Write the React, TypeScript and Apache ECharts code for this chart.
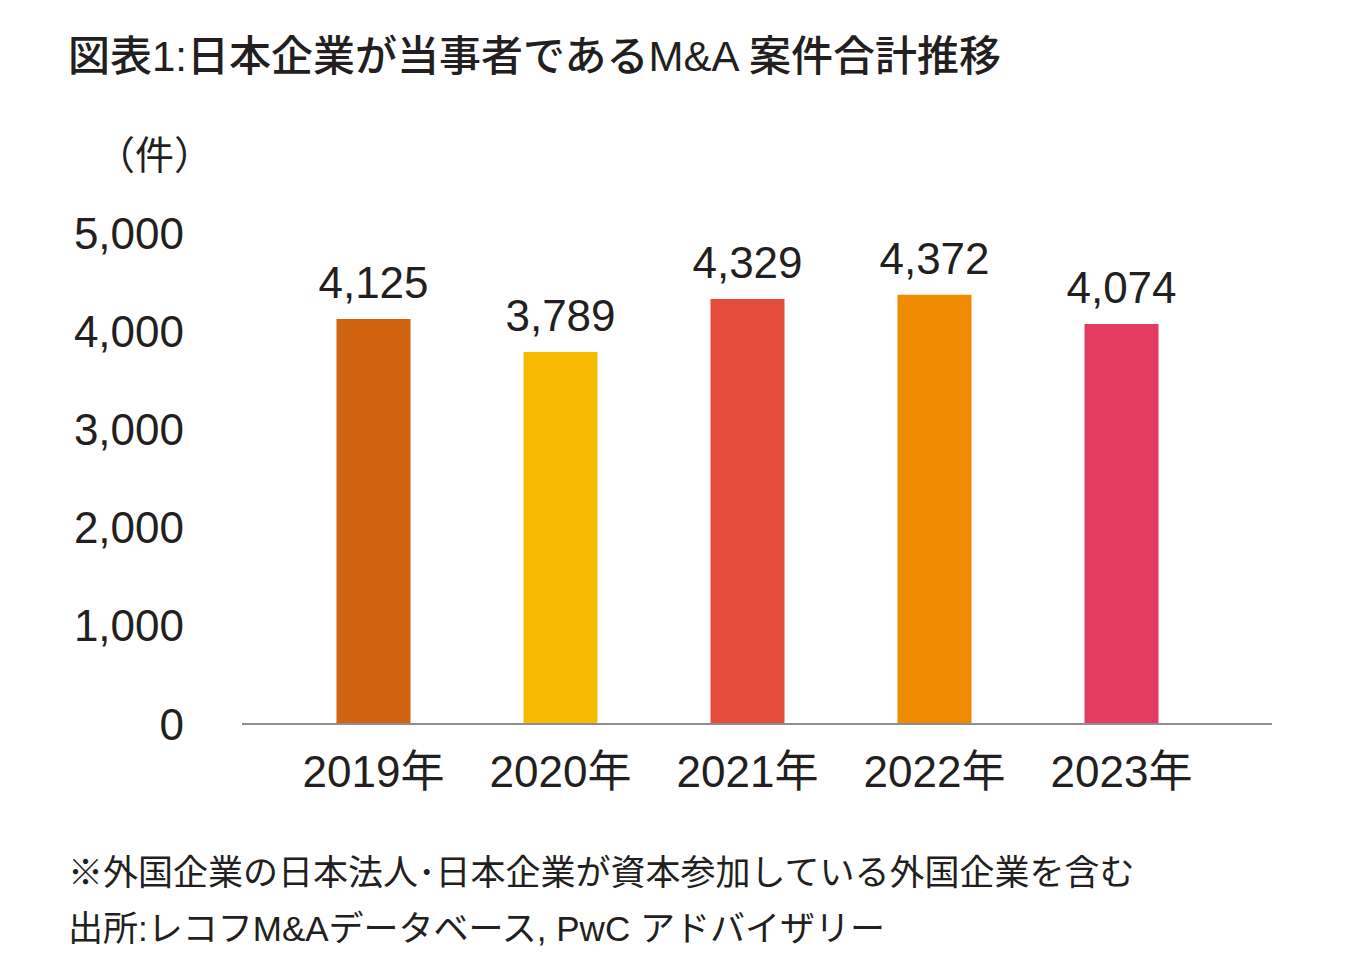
import React, { useEffect, useRef } from "react";
import * as echarts from "echarts";

const categories = ["2019年", "2020年", "2021年", "2022年", "2023年"];
const values = [4125, 3789, 4329, 4372, 4074];
const barColors = ["#D0630F", "#F6BB00", "#E64C3C", "#EE8B00", "#E43B62"];
const yTicks = { min: 0, max: 5000, interval: 1000 };

const title = "図表1:日本企業が当事者であるM&A 案件合計推移";
const unitLabel = "（件）";
const note1 = "※外国企業の日本法人･日本企業が資本参加している外国企業を含む";
const note2 = "出所:レコフM&Aデータベース, PwC アドバイザリー";

const FONT = "'Liberation Sans', 'Noto Sans CJK JP', sans-serif";
const TXT = "#231f20";

export default function App() {
  const ref = useRef<HTMLDivElement>(null);
  useEffect(() => {
    if (!ref.current) return;
    const chart = echarts.init(ref.current, undefined, { renderer: "svg" });
    chart.setOption({
      animation: false,
      backgroundColor: "#ffffff",
      textStyle: { fontFamily: FONT },
      grid: { left: 280, right: 134, top: 233, bottom: 242 },
      xAxis: {
        type: "category",
        data: categories,
        axisLine: { show: false },
        axisTick: { show: false },
        axisLabel: { color: TXT, fontSize: 44, margin: 25, fontFamily: FONT },
      },
      yAxis: {
        type: "value",
        min: yTicks.min,
        max: yTicks.max,
        interval: yTicks.interval,
        splitLine: { show: false },
        axisLine: { show: false },
        axisTick: { show: false },
        axisLabel: {
          color: TXT,
          fontSize: 44,
          margin: 96,
          fontFamily: FONT,
          formatter: (v: number) => v.toLocaleString("en-US"),
        },
      },
      series: [
        {
          type: "bar",
          barWidth: 74,
          data: values.map((v, i) => ({ value: v, itemStyle: { color: barColors[i] } })),
          label: {
            show: true,
            position: "top",
            distance: 14,
            color: TXT,
            fontSize: 44,
            fontFamily: FONT,
            formatter: (p: any) => Number(p.value).toLocaleString("en-US"),
          },
        },
      ],
      graphic: [
        {
          type: "line",
          z: 100,
          shape: { x1: 242, y1: 724, x2: 1272, y2: 724 },
          style: { stroke: "#8e8e8e", lineWidth: 2 },
        },
        {
          type: "text",
          left: 68,
          top: 35,
          style: { text: title, fill: TXT, font: `500 42px ${FONT}` },
        },
        {
          type: "text",
          left: 96,
          top: 136,
          style: { text: unitLabel, fill: TXT, font: `39px ${FONT}` },
        },
        {
          type: "text",
          left: 68,
          top: 855,
          style: { text: note1, fill: TXT, font: `35px ${FONT}` },
        },
        {
          type: "text",
          left: 68,
          top: 911,
          style: { text: note2, fill: TXT, font: `35px ${FONT}` },
        },
      ],
    });
    return () => chart.dispose();
  }, []);
  return (
    <div
      ref={ref}
      style={{ position: "absolute", left: 0, top: 0, width: 1349, height: 966 }}
    />
  );
}
